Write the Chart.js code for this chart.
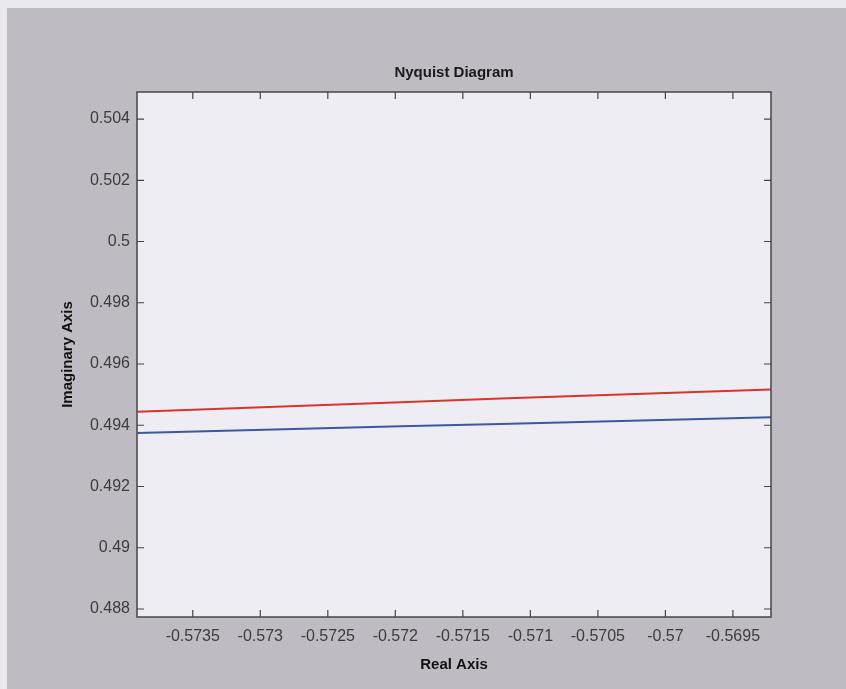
<!DOCTYPE html>
<html>
<head>
<meta charset="utf-8">
<title>Nyquist Diagram</title>
<script src="https://cdn.jsdelivr.net/npm/chart.js@4.4.1/dist/chart.umd.min.js"></script>
<style>
    html, body { margin: 0; padding: 0; background: #bebbc2; }
    #wrap { width: 846px; height: 689px; }
</style>
</head>
<body>
<div id="wrap"><canvas id="nyquistChart"></canvas></div>
<script>
// real part of the frequency response (shared by both curves)
const realAxis = [-0.57391, -0.57196, -0.57122, -0.56921];
// imaginary part, first system (red) and second system (blue)
const imagRed = [0.49444, 0.49475, 0.49487, 0.49517];
const imagBlue = [0.49375, 0.49397, 0.49404, 0.49426];

// tick positions on each axis
const xTicks = [-0.5735, -0.573, -0.5725, -0.572, -0.5715, -0.571, -0.5705, -0.57, -0.5695];
const yTicks = [0.488, 0.49, 0.492, 0.494, 0.496, 0.498, 0.5, 0.502, 0.504];

// visible window
const xMin = -0.573913, xMax = -0.569218;
const yMin = 0.487738, yMax = 0.504883;

function toPoints(xs, ys) {
    return xs.map((x, i) => ({ x: x, y: ys[i] }));
}

// figure background, axes box and inward ticks on all four sides
const figurePlugin = {
    id: "figure",
    beforeDraw(chart) {
        const ctx = chart.ctx;
        ctx.save();
        ctx.fillStyle = "#bebbc2";
        ctx.fillRect(0, 0, chart.width, chart.height);
        ctx.fillStyle = "#e9e9ee";
        ctx.fillRect(0, 0, chart.width, 8);
        ctx.fillRect(0, 0, 7, chart.height);
        const a = chart.chartArea;
        ctx.fillStyle = "#eeedf3";
        ctx.fillRect(a.left, a.top, a.right - a.left, a.bottom - a.top);
        ctx.restore();
    },
    afterDraw(chart) {
        const ctx = chart.ctx;
        const a = chart.chartArea;
        const xs = chart.scales.x, ys = chart.scales.y;
        const len = 7;
        ctx.save();
        ctx.strokeStyle = "#454545";
        ctx.lineWidth = 1.5;
        ctx.strokeRect(a.left, a.top, a.right - a.left, a.bottom - a.top);
        ctx.lineWidth = 1.2;
        ctx.beginPath();
        xs.ticks.forEach(t => {
            const px = xs.getPixelForValue(t.value);
            ctx.moveTo(px, a.bottom); ctx.lineTo(px, a.bottom - len);
            ctx.moveTo(px, a.top); ctx.lineTo(px, a.top + len);
        });
        ys.ticks.forEach(t => {
            const py = ys.getPixelForValue(t.value);
            ctx.moveTo(a.left, py); ctx.lineTo(a.left + len, py);
            ctx.moveTo(a.right, py); ctx.lineTo(a.right - len, py);
        });
        ctx.stroke();
        ctx.restore();
    }
};

const tickFont = { family: "'Liberation Sans', Arial, sans-serif", size: 16 };
const titleFont = { family: "'Liberation Sans', Arial, sans-serif", size: 15, weight: "bold" };

new Chart(document.getElementById("nyquistChart"), {
    type: "line",
    data: {
        datasets: [
            {
                data: toPoints(realAxis, imagRed),
                borderColor: "#d9352b",
                borderWidth: 2,
                pointRadius: 0,
                tension: 0
            },
            {
                data: toPoints(realAxis, imagBlue),
                borderColor: "#3b5a9b",
                borderWidth: 2,
                pointRadius: 0,
                tension: 0
            }
        ]
    },
    options: {
        responsive: true,
        maintainAspectRatio: false,
        animation: false,
        layout: { padding: { left: 0, right: 75, top: 0, bottom: 0 } },
        plugins: {
            legend: { display: false },
            tooltip: { enabled: false },
            title: {
                display: true,
                text: "Nyquist Diagram",
                color: "#1a1a1a",
                font: titleFont,
                fullSize: false,
                padding: { top: 64, bottom: 10 }
            }
        },
        scales: {
            x: {
                type: "linear",
                min: xMin,
                max: xMax,
                afterBuildTicks: s => { s.ticks = xTicks.map(v => ({ value: v })); },
                afterFit: s => { s.height = 72; },
                grid: { display: false, drawTicks: false },
                border: { display: false },
                ticks: {
                    color: "#3c3c3c",
                    font: tickFont,
                    padding: 10,
                    maxRotation: 0,
                    autoSkip: false,
                    callback: v => String(v)
                },
                title: {
                    display: true,
                    text: "Real Axis",
                    color: "#111111",
                    font: titleFont,
                    padding: { top: 0, bottom: 15 }
                }
            },
            y: {
                type: "linear",
                min: yMin,
                max: yMax,
                afterBuildTicks: s => { s.ticks = yTicks.map(v => ({ value: v })); },
                afterFit: s => { s.width = 137; },
                grid: { display: false, drawTicks: false },
                border: { display: false },
                ticks: {
                    color: "#3c3c3c",
                    font: tickFont,
                    padding: 7,
                    autoSkip: false,
                    callback: v => String(v)
                },
                title: {
                    display: true,
                    text: "Imaginary Axis",
                    color: "#111111",
                    font: titleFont,
                    padding: { top: 59, bottom: 0 }
                }
            }
        }
    },
    plugins: [figurePlugin]
});
</script>
</body>
</html>
